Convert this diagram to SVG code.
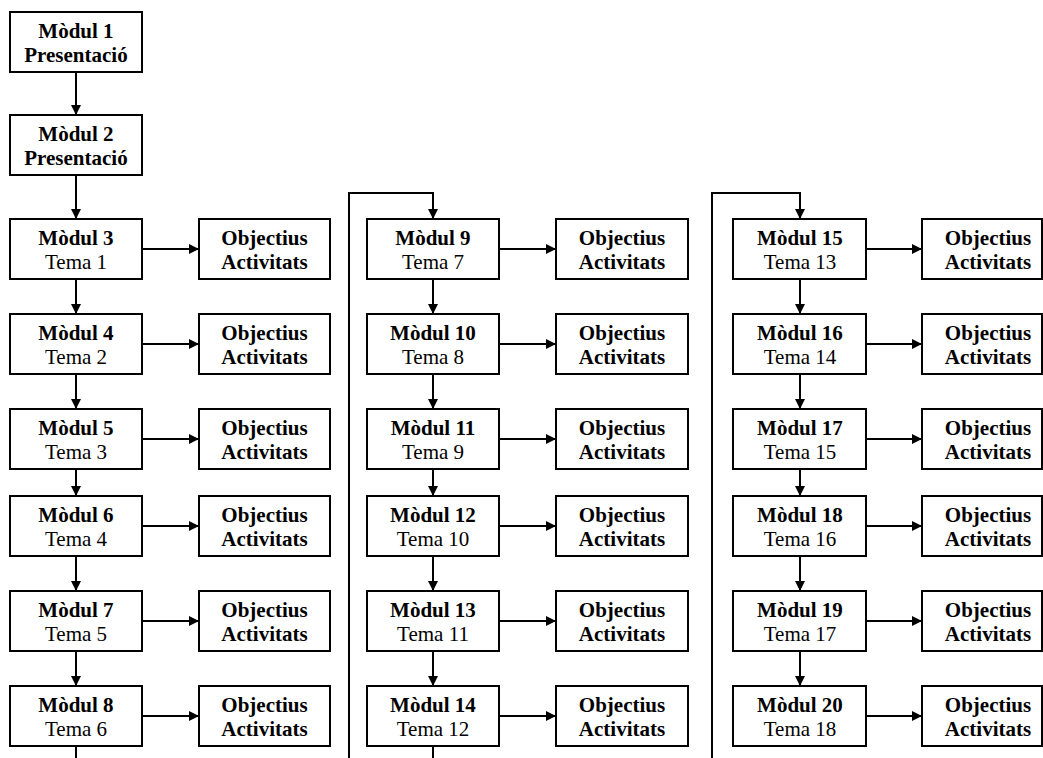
<svg xmlns="http://www.w3.org/2000/svg" width="1043" height="758" viewBox="0 0 1043 758">
<style>
rect.b{fill:#fff;stroke:#000;stroke-width:2}
text{font-family:"Liberation Serif","Times New Roman",serif;font-size:21px;text-anchor:middle;fill:#000}
.bd{font-weight:bold}
.c{fill:none;stroke:#000;stroke-width:2}
</style>
<defs>
<marker id="ah" markerUnits="userSpaceOnUse" markerWidth="10" markerHeight="10" viewBox="0 0 10 10" refX="10" refY="5" orient="auto"><path d="M0,0 L10,5 L0,10 z" fill="#000"/></marker>
</defs>
<g id="connectors">
<path class="c" d="M76 72 V115" marker-end="url(#ah)"/>
<path class="c" d="M76 175 V219" marker-end="url(#ah)"/>
<path class="c" d="M76 279 V314" marker-end="url(#ah)"/>
<path class="c" d="M76 374 V409" marker-end="url(#ah)"/>
<path class="c" d="M76 469 V496" marker-end="url(#ah)"/>
<path class="c" d="M76 556 V591" marker-end="url(#ah)"/>
<path class="c" d="M76 651 V686" marker-end="url(#ah)"/>
<path class="c" d="M76 746 V758"/>
<path class="c" d="M349 758 V193 H433 V219" marker-end="url(#ah)"/>
<path class="c" d="M433 279 V314" marker-end="url(#ah)"/>
<path class="c" d="M433 374 V409" marker-end="url(#ah)"/>
<path class="c" d="M433 469 V496" marker-end="url(#ah)"/>
<path class="c" d="M433 556 V591" marker-end="url(#ah)"/>
<path class="c" d="M433 651 V686" marker-end="url(#ah)"/>
<path class="c" d="M433 746 V758"/>
<path class="c" d="M712 758 V193 H800 V219" marker-end="url(#ah)"/>
<path class="c" d="M800 279 V314" marker-end="url(#ah)"/>
<path class="c" d="M800 374 V409" marker-end="url(#ah)"/>
<path class="c" d="M800 469 V496" marker-end="url(#ah)"/>
<path class="c" d="M800 556 V591" marker-end="url(#ah)"/>
<path class="c" d="M800 651 V686" marker-end="url(#ah)"/>
<path class="c" d="M142 249 H199" marker-end="url(#ah)"/>
<path class="c" d="M142 344 H199" marker-end="url(#ah)"/>
<path class="c" d="M142 439 H199" marker-end="url(#ah)"/>
<path class="c" d="M142 526 H199" marker-end="url(#ah)"/>
<path class="c" d="M142 621 H199" marker-end="url(#ah)"/>
<path class="c" d="M142 716 H199" marker-end="url(#ah)"/>
<path class="c" d="M499 249 H556" marker-end="url(#ah)"/>
<path class="c" d="M499 344 H556" marker-end="url(#ah)"/>
<path class="c" d="M499 439 H556" marker-end="url(#ah)"/>
<path class="c" d="M499 526 H556" marker-end="url(#ah)"/>
<path class="c" d="M499 621 H556" marker-end="url(#ah)"/>
<path class="c" d="M499 716 H556" marker-end="url(#ah)"/>
<path class="c" d="M866 249 H922" marker-end="url(#ah)"/>
<path class="c" d="M866 344 H922" marker-end="url(#ah)"/>
<path class="c" d="M866 439 H922" marker-end="url(#ah)"/>
<path class="c" d="M866 526 H922" marker-end="url(#ah)"/>
<path class="c" d="M866 621 H922" marker-end="url(#ah)"/>
<path class="c" d="M866 716 H922" marker-end="url(#ah)"/>
</g>
<g id="m1"><rect class="b" x="10" y="12" width="132" height="60"/><text class="bd" x="76" y="38">Mòdul 1</text><text class="bd" x="76" y="62">Presentació</text></g>
<g id="m2"><rect class="b" x="10" y="115" width="132" height="60"/><text class="bd" x="76" y="141">Mòdul 2</text><text class="bd" x="76" y="165">Presentació</text></g>

<g id="m3"><rect class="b" x="10" y="219" width="132" height="60"/><text class="bd" x="76" y="245">Mòdul 3</text><text x="76" y="269">Tema 1</text></g>
<g id="m4"><rect class="b" x="10" y="314" width="132" height="60"/><text class="bd" x="76" y="340">Mòdul 4</text><text x="76" y="364">Tema 2</text></g>
<g id="m5"><rect class="b" x="10" y="409" width="132" height="60"/><text class="bd" x="76" y="435">Mòdul 5</text><text x="76" y="459">Tema 3</text></g>
<g id="m6"><rect class="b" x="10" y="496" width="132" height="60"/><text class="bd" x="76" y="522">Mòdul 6</text><text x="76" y="546">Tema 4</text></g>
<g id="m7"><rect class="b" x="10" y="591" width="132" height="60"/><text class="bd" x="76" y="617">Mòdul 7</text><text x="76" y="641">Tema 5</text></g>
<g id="m8"><rect class="b" x="10" y="686" width="132" height="60"/><text class="bd" x="76" y="712">Mòdul 8</text><text x="76" y="736">Tema 6</text></g>

<g id="o3"><rect class="b" x="199" y="219" width="131" height="60"/><text class="bd" x="264.5" y="245">Objectius</text><text class="bd" x="264.5" y="269">Activitats</text></g>
<g id="o4"><rect class="b" x="199" y="314" width="131" height="60"/><text class="bd" x="264.5" y="340">Objectius</text><text class="bd" x="264.5" y="364">Activitats</text></g>
<g id="o5"><rect class="b" x="199" y="409" width="131" height="60"/><text class="bd" x="264.5" y="435">Objectius</text><text class="bd" x="264.5" y="459">Activitats</text></g>
<g id="o6"><rect class="b" x="199" y="496" width="131" height="60"/><text class="bd" x="264.5" y="522">Objectius</text><text class="bd" x="264.5" y="546">Activitats</text></g>
<g id="o7"><rect class="b" x="199" y="591" width="131" height="60"/><text class="bd" x="264.5" y="617">Objectius</text><text class="bd" x="264.5" y="641">Activitats</text></g>
<g id="o8"><rect class="b" x="199" y="686" width="131" height="60"/><text class="bd" x="264.5" y="712">Objectius</text><text class="bd" x="264.5" y="736">Activitats</text></g>

<g id="m9"><rect class="b" x="367" y="219" width="132" height="60"/><text class="bd" x="433" y="245">Mòdul 9</text><text x="433" y="269">Tema 7</text></g>
<g id="m10"><rect class="b" x="367" y="314" width="132" height="60"/><text class="bd" x="433" y="340">Mòdul 10</text><text x="433" y="364">Tema 8</text></g>
<g id="m11"><rect class="b" x="367" y="409" width="132" height="60"/><text class="bd" x="433" y="435">Mòdul 11</text><text x="433" y="459">Tema 9</text></g>
<g id="m12"><rect class="b" x="367" y="496" width="132" height="60"/><text class="bd" x="433" y="522">Mòdul 12</text><text x="433" y="546">Tema 10</text></g>
<g id="m13"><rect class="b" x="367" y="591" width="132" height="60"/><text class="bd" x="433" y="617">Mòdul 13</text><text x="433" y="641">Tema 11</text></g>
<g id="m14"><rect class="b" x="367" y="686" width="132" height="60"/><text class="bd" x="433" y="712">Mòdul 14</text><text x="433" y="736">Tema 12</text></g>

<g id="o9"><rect class="b" x="556" y="219" width="132" height="60"/><text class="bd" x="622" y="245">Objectius</text><text class="bd" x="622" y="269">Activitats</text></g>
<g id="o10"><rect class="b" x="556" y="314" width="132" height="60"/><text class="bd" x="622" y="340">Objectius</text><text class="bd" x="622" y="364">Activitats</text></g>
<g id="o11"><rect class="b" x="556" y="409" width="132" height="60"/><text class="bd" x="622" y="435">Objectius</text><text class="bd" x="622" y="459">Activitats</text></g>
<g id="o12"><rect class="b" x="556" y="496" width="132" height="60"/><text class="bd" x="622" y="522">Objectius</text><text class="bd" x="622" y="546">Activitats</text></g>
<g id="o13"><rect class="b" x="556" y="591" width="132" height="60"/><text class="bd" x="622" y="617">Objectius</text><text class="bd" x="622" y="641">Activitats</text></g>
<g id="o14"><rect class="b" x="556" y="686" width="132" height="60"/><text class="bd" x="622" y="712">Objectius</text><text class="bd" x="622" y="736">Activitats</text></g>

<g id="m15"><rect class="b" x="733" y="219" width="133" height="60"/><text class="bd" x="800" y="245">Mòdul 15</text><text x="800" y="269">Tema 13</text></g>
<g id="m16"><rect class="b" x="733" y="314" width="133" height="60"/><text class="bd" x="800" y="340">Mòdul 16</text><text x="800" y="364">Tema 14</text></g>
<g id="m17"><rect class="b" x="733" y="409" width="133" height="60"/><text class="bd" x="800" y="435">Mòdul 17</text><text x="800" y="459">Tema 15</text></g>
<g id="m18"><rect class="b" x="733" y="496" width="133" height="60"/><text class="bd" x="800" y="522">Mòdul 18</text><text x="800" y="546">Tema 16</text></g>
<g id="m19"><rect class="b" x="733" y="591" width="133" height="60"/><text class="bd" x="800" y="617">Mòdul 19</text><text x="800" y="641">Tema 17</text></g>
<g id="m20"><rect class="b" x="733" y="686" width="133" height="60"/><text class="bd" x="800" y="712">Mòdul 20</text><text x="800" y="736">Tema 18</text></g>

<g id="o15"><rect class="b" x="922" y="219" width="120" height="60"/><text class="bd" x="988" y="245">Objectius</text><text class="bd" x="988" y="269">Activitats</text></g>
<g id="o16"><rect class="b" x="922" y="314" width="120" height="60"/><text class="bd" x="988" y="340">Objectius</text><text class="bd" x="988" y="364">Activitats</text></g>
<g id="o17"><rect class="b" x="922" y="409" width="120" height="60"/><text class="bd" x="988" y="435">Objectius</text><text class="bd" x="988" y="459">Activitats</text></g>
<g id="o18"><rect class="b" x="922" y="496" width="120" height="60"/><text class="bd" x="988" y="522">Objectius</text><text class="bd" x="988" y="546">Activitats</text></g>
<g id="o19"><rect class="b" x="922" y="591" width="120" height="60"/><text class="bd" x="988" y="617">Objectius</text><text class="bd" x="988" y="641">Activitats</text></g>
<g id="o20"><rect class="b" x="922" y="686" width="120" height="60"/><text class="bd" x="988" y="712">Objectius</text><text class="bd" x="988" y="736">Activitats</text></g>
</svg>
